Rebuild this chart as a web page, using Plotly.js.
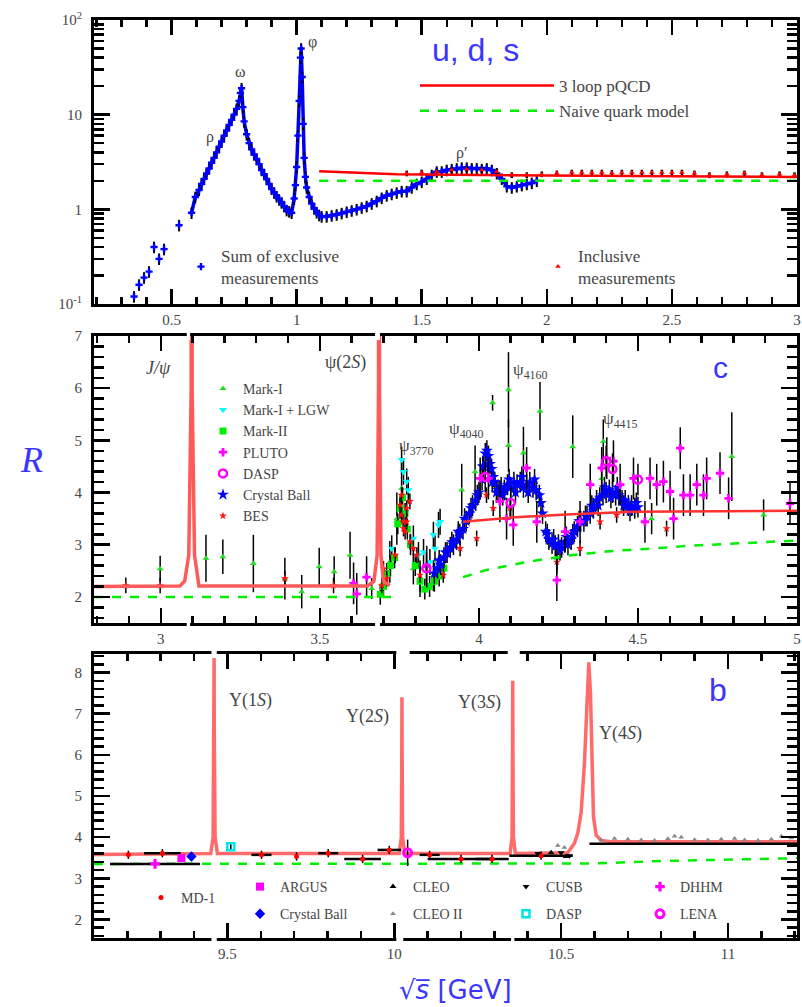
<!DOCTYPE html>
<html><head><meta charset="utf-8">
<script src="https://cdn.plot.ly/plotly-3.0.1.min.js"></script>
<style>html,body{margin:0;padding:0;background:#fff}#chart{width:802px;height:1007px}</style>
</head><body><div id="chart"></div>
<script>
// ---------- Panel 1 : u, d, s ----------
const exclX = [0.35,0.37,0.39,0.41,0.43,0.45,0.47,0.53,0.58,0.595,0.61,0.62,0.63,0.64,0.65,0.66,0.67,0.68,0.69,0.70,0.71,0.72,0.73,0.74,0.75,0.76,0.77,0.775,0.78,0.785,0.79,0.80,0.81,0.82,0.83,0.84,0.85,0.86,0.87,0.88,0.89,0.90,0.91,0.92,0.93,0.94,0.95,0.96,0.97,0.98,0.99,0.995,1.0,1.005,1.01,1.015,1.018,1.022,1.026,1.03,1.035,1.04,1.05,1.06,1.07,1.08,1.09,1.10,1.12,1.14,1.16,1.18,1.20,1.22,1.24,1.26,1.28,1.30,1.32,1.34,1.36,1.38,1.40,1.42,1.44,1.46,1.48,1.50,1.52,1.54,1.56,1.58,1.60,1.62,1.64,1.66,1.68,1.70,1.72,1.74,1.76,1.78,1.80,1.82,1.84,1.86,1.88,1.90,1.92,1.94,1.96];
const exclY = [0.12,0.16,0.19,0.22,0.40,0.30,0.38,0.68,0.92,1.35,1.6,1.85,2.1,2.4,2.7,3.1,3.5,4.0,4.6,5.2,6.0,6.8,7.8,8.8,10,11.5,14,17,19,12,8.5,6.2,5.0,4.3,3.8,3.4,3.0,2.6,2.35,2.1,1.85,1.65,1.5,1.37,1.27,1.18,1.08,0.98,0.95,0.92,1.3,1.8,2.8,6,14,40,50,25,8,3.5,2.2,1.7,1.35,1.15,1.02,0.93,0.87,0.84,0.84,0.86,0.88,0.91,0.94,0.97,1.0,1.04,1.08,1.15,1.22,1.32,1.4,1.45,1.5,1.55,1.55,1.7,1.85,1.95,2.1,2.3,2.5,2.5,2.6,2.65,2.7,2.75,2.75,2.7,2.7,2.65,2.7,2.6,2.4,2.1,1.75,1.7,1.75,1.8,1.85,1.9,2.0];
const inclX = [1.44,1.50,1.56,1.62,1.68,1.74,1.80,1.86,1.92,1.98,2.04,2.10,2.14,2.18,2.22,2.26,2.30,2.34,2.38,2.42,2.46,2.50,2.54,2.59,2.65,2.72,2.79,2.86,2.93,2.99];
const inclY = [2.4,2.45,2.5,2.6,2.65,2.6,2.5,2.3,2.3,2.35,2.4,2.45,2.45,2.45,2.45,2.42,2.45,2.45,2.45,2.45,2.45,2.45,2.45,2.4,2.3,2.35,2.4,2.3,2.35,2.3];
const pqcdUdsX = [1.09, 1.4, 2.0, 3.0];
const pqcdUdsY = [2.52, 2.35, 2.28, 2.2];
const naiveUdsX = [1.09, 3.0];
const naiveUdsY = [2.0, 2.0];

// ---------- Panel 2 : charm ----------
const pqcdC1X = [2.79,3.06,3.075,3.088,3.0955,3.097,3.0985,3.106,3.12,3.65,3.67,3.68,3.6845,3.686,3.6875,3.692,3.70,3.72];
const pqcdC1Y = [2.2,2.21,2.3,2.8,6,40,6,2.8,2.21,2.21,2.3,2.8,6,40,6,2.8,2.3,2.22];
const pqcdC2X = [3.95,4.1,4.276,4.486,5.0];
const pqcdC2Y = [3.44,3.52,3.58,3.63,3.65];
const naiveC1X = [2.79,3.73];
const naiveC1Y = [2.0,2.0];
const naiveC2X = [3.95,4.02,4.15,4.22,4.29,4.34,4.40,4.47,4.54,4.60,4.66,4.73,4.79,4.85,4.91,5.0];
const naiveC2Y = [2.38,2.51,2.67,2.74,2.8,2.83,2.87,2.9,2.92,2.95,2.98,3.0,3.03,3.04,3.06,3.08];

const markIX = [2.998,3.142,3.195,3.291,3.39,3.443,3.498,3.545,3.595,3.663,3.72,3.742,3.757,3.794,3.815,3.857,3.946,3.988,4.043,4.093,4.093,4.14,4.192,4.245,4.295,4.386,4.391,4.543,4.795,4.895];
const markIY = [2.54,2.74,2.77,2.64,2.35,2.10,2.58,2.48,2.80,2.16,2.67,3.50,4.08,2.54,2.35,2.41,4.05,4.40,5.72,5.97,4.90,4.76,5.56,2.74,4.88,4.27,4.98,3.50,4.69,3.57];
const markIE = [0.25,0.45,0.33,0.55,0.4,0.32,0.36,0.3,0.45,0.2,0.4,0.5,0.6,0.3,0.35,0.3,0.5,0.5,0.15,0.72,0.5,0.5,0.56,0.3,0.6,0.4,0.42,0.3,0.85,0.3];
const markILgwX = [3.726,3.757,3.763,3.773,3.778,3.794,3.81,3.826,3.846,3.857,3.862,3.873,3.878];
const markILgwY = [2.93,4.63,4.40,4.21,4.05,3.12,2.80,2.86,2.67,3.19,2.93,3.38,3.44];
const markIIX = [3.69,3.70,3.71,3.722,3.735,3.745,3.752,3.76,3.768,3.775,3.785,3.80,3.815,3.83,3.845,3.86,3.875,3.89];
const markIIY = [2.05,2.2,2.45,2.6,2.75,3.4,3.7,3.9,3.6,3.3,3.0,2.6,2.3,2.15,2.2,2.3,2.4,2.55];
const plutoX = [3.606,3.616,3.647,3.836,4.004,4.03,4.066,4.087,4.108,4.15,4.182,4.245,4.271,4.318,4.35,4.386,4.402,4.423,4.444,4.486,4.522,4.538,4.559,4.58,4.601,4.612,4.633,4.643,4.664,4.685,4.706,4.716,4.758,4.785,4.978];
const plutoY = [2.26,2.06,2.38,2.58,4.27,4.27,3.83,3.50,3.38,4.47,3.44,2.32,3.25,3.44,4.15,4.47,4.66,4.60,4.15,4.27,3.44,4.27,4.15,4.21,4.02,3.50,4.85,3.95,3.95,4.15,3.95,4.27,4.37,3.89,3.79];
const daspCX = [3.835,4.02,4.10,4.40,4.42,4.50];
const daspCY = [2.55,4.3,3.8,4.6,4.45,4.25];
const cbX = [3.86,3.87,3.88,3.89,3.90,3.91,3.92,3.93,3.94,3.95,3.96,3.97,3.98,3.99,4.00,4.01,4.015,4.02,4.025,4.03,4.035,4.04,4.045,4.05,4.06,4.07,4.08,4.09,4.10,4.11,4.12,4.13,4.14,4.15,4.16,4.17,4.18,4.19,4.20,4.21,4.22,4.23,4.24,4.25,4.26,4.27,4.28,4.29,4.30,4.31,4.32,4.33,4.34,4.35,4.36,4.37,4.38,4.39,4.40,4.41,4.42,4.43,4.44,4.45,4.46,4.47,4.48,4.49,4.50];
const cbY = [2.45,2.55,2.62,2.75,2.85,2.95,3.0,3.1,3.2,3.3,3.45,3.6,3.75,3.85,4.0,4.25,4.5,4.75,4.8,4.7,4.55,4.45,4.3,4.2,4.05,4.1,4.05,4.15,4.1,4.2,4.15,4.2,4.1,4.15,4.2,4.1,4.05,3.95,3.6,3.25,3.1,3.02,2.98,3.0,2.95,3.05,3.0,3.1,3.25,3.35,3.45,3.45,3.55,3.6,3.7,3.85,3.9,3.95,4.0,4.05,4.0,3.95,3.95,3.85,3.85,3.75,3.75,3.7,3.72];
const cbX2 = [3.875,3.895,3.915,3.935,3.955,3.975,3.995,4.012,4.028,4.042,4.055,4.075,4.095,4.115,4.135,4.155,4.175,4.195,4.215,4.235,4.255,4.275,4.295,4.315,4.335,4.355,4.375,4.395,4.415,4.435,4.455,4.475,4.495];
const cbY2 = [2.7,2.85,3.05,3.25,3.5,3.7,3.95,4.5,4.55,4.2,4.0,3.95,4.25,4.0,4.3,4.0,4.25,3.8,3.2,3.1,2.9,3.15,3.2,3.45,3.55,3.75,3.75,4.1,3.9,4.1,3.75,3.65,3.8];
const besX = [2.89,2.998,3.39,3.543,3.695,3.70,3.71,3.737,3.752,3.757,3.757,3.762,3.763,3.768,3.773,3.773,3.783,3.784,3.794,3.805,3.815,3.888,3.941,3.993,4.024,4.045,4.098,4.245,4.318,4.381,4.433,4.59];
const besY = [2.22,2.22,2.35,2.22,2.22,2.54,2.35,2.8,3.76,3.57,3.95,3.44,3.31,3.25,3.44,3.7,3.83,3.06,2.93,2.8,2.42,2.42,2.93,3.12,3.95,3.7,3.7,2.67,2.93,3.44,3.57,3.31];

// ---------- Panel 3 : bottom ----------
const pqcdBX = [9.1,9.45,9.457,9.4595,9.46,9.4605,9.463,9.47,10.015,10.021,10.0225,10.023,10.0235,10.025,10.031,10.347,10.353,10.3545,10.355,10.3555,10.357,10.363,10.52,10.54,10.55,10.56,10.57,10.578,10.583,10.588,10.592,10.597,10.605,10.62,10.65,11.21];
const pqcdBY = [3.58,3.6,4.0,6.5,8.37,6.5,4.0,3.6,3.6,4.0,6.0,7.4,6.0,4.0,3.6,3.6,4.0,6.3,7.8,6.3,4.0,3.6,3.62,3.85,4.1,4.6,5.8,7.5,8.25,7.5,5.8,4.5,4.05,3.92,3.89,3.89];
const naiveBX = [9.1,10.56,10.6,10.8,11.0,11.21];
const naiveBY = [3.35,3.35,3.36,3.42,3.46,3.49];
const md1X = [9.203,9.305,9.602,9.707,9.802,9.905,9.985,10.106,10.20,10.293,10.44];
const md1Y = [3.57,3.61,3.57,3.53,3.61,3.47,3.69,3.57,3.47,3.47,3.55];
const md1Ex = [0.0,0.055,0.03,0.0,0.03,0.055,0.035,0.03,0.1,0.05,0.095];
const argusX = [9.362], argusY = [3.49];
const cbBX = [9.392], cbBY = [3.53];
const cleoX = [10.47,10.515], cleoY = [3.62,3.53];
const cleoIIX = [10.49,10.51,10.62,10.66,10.70,10.74,10.78,10.82,10.84,10.86,10.9,10.94,10.98,11.02,11.05,11.09,11.13,11.16,11.19];
const cleoIIY = [3.8,3.75,3.93,3.97,3.95,3.93,3.92,3.96,4.02,4.0,3.94,3.93,3.95,3.97,3.93,3.92,3.95,4.02,3.98];
const cleoScanX = [10.585,10.65,10.75,10.85,10.95,11.05,11.15,11.21];
const cleoScanY = [3.84,3.84,3.84,3.84,3.84,3.84,3.84,3.84];
const cusbX = [10.43,10.50,10.525], cusbY = [3.6,3.62,3.55];
const daspBX = [9.51], daspBY = [3.77];
const dhhmX = [9.283], dhhmY = [3.35], dhhmEx = [0.135];
const lenaX = [10.04], lenaY = [3.62], lenaEy = [0.32];

// ---------- geometry helpers ----------
const PX = px => (px - 94) / 703;
const PY = py => 1 - (py - 20) / 918;
const SERIF = 'Liberation Serif, DejaVu Serif, serif';
const SANS = 'Liberation Sans, DejaVu Sans, sans-serif';
const TXT = '#454545';
const BLUE = '#3b36ff';

const ebar = (v, type, th) => ({type: type || 'constant', value: v, color: '#000', thickness: th || 1.5, width: 0});
const ebarA = arr => ({type: 'data', array: arr, color: '#000', thickness: 1.5, width: 0});

const traces = [];
// top panel
const exclLineX = exclX.filter(x => x >= 0.58);
const exclLineY = exclY.filter((y, i) => exclX[i] >= 0.58);
traces.push({x: exclLineX, y: exclLineY, xaxis: 'x', yaxis: 'y', type: 'scatter', mode: 'lines', showlegend: false,
  line: {color: '#0000ee', width: 3.5}});
traces.push({x: exclX, y: exclY, xaxis: 'x', yaxis: 'y', type: 'scatter', mode: 'markers', name: 'Sum of exclusive<br>measurements', legend: 'legend',
  marker: {symbol: 'cross', size: 6, color: '#0000ff'}, error_y: ebar(14, 'percent', 2)});
traces.push({x: inclX, y: inclY, xaxis: 'x', yaxis: 'y', type: 'scatter', mode: 'markers', name: 'Inclusive<br>measurements', legend: 'legend2',
  marker: {symbol: 'triangle-up', size: 5, color: '#ff0000'}, error_y: ebar(7, 'percent', 2.5)});
traces.push({x: pqcdUdsX, y: pqcdUdsY, xaxis: 'x', yaxis: 'y', type: 'scatter', mode: 'lines', name: '3 loop pQCD', legend: 'legend3', legendrank: 1,
  line: {color: '#ff0000', width: 2.5}});
traces.push({x: naiveUdsX, y: naiveUdsY, xaxis: 'x', yaxis: 'y', type: 'scatter', mode: 'lines', name: 'Naive quark model', legend: 'legend3', legendrank: 2,
  line: {color: '#00ee00', width: 2.5, dash: 'dash'}});

// middle panel data
const mid = (o) => Object.assign({xaxis: 'x2', yaxis: 'y2', type: 'scatter', mode: 'markers', legend: 'legend4'}, o);
traces.push(mid({x: markIX, y: markIY, name: 'Mark-I', legendrank: 1, marker: {symbol: 'triangle-up', size: 6, color: '#22dd22'}, error_y: ebarA(markIE)}));
traces.push(mid({x: markILgwX, y: markILgwY, name: 'Mark-I + LGW', legendrank: 2, marker: {symbol: 'triangle-down', size: 7, color: '#00ffff'}, error_y: ebar(0.25)}));
traces.push(mid({x: markIIX, y: markIIY, name: 'Mark-II', legendrank: 3, marker: {symbol: 'square', size: 7, color: '#00ee00'}, error_y: ebar(0.2)}));
traces.push(mid({x: besX, y: besY, name: 'BES', legendrank: 7, marker: {symbol: 'star', size: 6, color: '#ff1010'}, error_y: ebar(0.15)}));
traces.push(mid({x: cbX.concat(cbX2), y: cbY.concat(cbY2), name: 'Crystal Ball', legendrank: 6, marker: {symbol: 'star', size: 9, color: '#0000ff'}, error_y: ebar(0.2)}));
traces.push(mid({x: plutoX, y: plutoY, name: 'PLUTO', legendrank: 4, marker: {symbol: 'cross', size: 7, color: '#ff00ff'}, error_y: ebar(0.4)}));
traces.push(mid({x: daspCX, y: daspCY, name: 'DASP', legendrank: 5, marker: {symbol: 'circle-open', size: 8, color: '#ff00ff', line: {width: 2.5}}, error_y: ebar(0.3)}));
// middle theory
traces.push({x: naiveC1X, y: naiveC1Y, xaxis: 'x2', yaxis: 'y2', mode: 'lines', showlegend: false, line: {color: '#00ee00', width: 2.5, dash: 'dash'}});
traces.push({x: naiveC2X, y: naiveC2Y, xaxis: 'x2', yaxis: 'y2', mode: 'lines', showlegend: false, line: {color: '#00ee00', width: 2.5, dash: 'dash'}});
traces.push({x: pqcdC1X, y: pqcdC1Y, xaxis: 'x2', yaxis: 'y2', mode: 'lines', showlegend: false, line: {color: '#ff5a5a', width: 3.5}});
traces.push({x: pqcdC2X, y: pqcdC2Y, xaxis: 'x2', yaxis: 'y2', mode: 'lines', showlegend: false, line: {color: '#ff3030', width: 2.5}});

// bottom panel theory
traces.push({x: naiveBX, y: naiveBY, xaxis: 'x3', yaxis: 'y3', mode: 'lines', showlegend: false, line: {color: '#00ee00', width: 2.5, dash: 'dash'}});
traces.push({x: pqcdBX, y: pqcdBY, xaxis: 'x3', yaxis: 'y3', mode: 'lines', showlegend: false, line: {color: '#ff6a6a', width: 3.5}});
traces.push({x: cleoScanX, y: cleoScanY, xaxis: 'x3', yaxis: 'y3', mode: 'lines', showlegend: false, line: {color: '#000', width: 2.5}});
// bottom data
const bot = (o) => Object.assign({xaxis: 'x3', yaxis: 'y3', type: 'scatter', mode: 'markers'}, o);
const exA = arr => ({type: 'data', array: arr, color: '#000', thickness: 2.5, width: 0});
traces.push(bot({x: md1X, y: md1Y, name: 'MD-1', legend: 'legend5', marker: {symbol: 'circle', size: 5, color: '#ff0000'}, error_x: exA(md1Ex), error_y: ebar(0.1)}));
traces.push(bot({x: argusX, y: argusY, name: 'ARGUS', legend: 'legend6', legendgroup: 'g1', marker: {symbol: 'square', size: 8, color: '#ff00ff'}}));
traces.push(bot({x: cbBX, y: cbBY, name: 'Crystal Ball', legend: 'legend6', legendgroup: 'g2', marker: {symbol: 'diamond', size: 8, color: '#0000ff'}, error_y: ebar(0.1)}));
traces.push(bot({x: cleoX, y: cleoY, name: 'CLEO', legend: 'legend7', legendgroup: 'g3', marker: {symbol: 'triangle-up', size: 6, color: '#000'}}));
traces.push(bot({x: cleoIIX, y: cleoIIY, name: 'CLEO II', legend: 'legend7', legendgroup: 'g4', marker: {symbol: 'triangle-up', size: 5, color: '#888'}}));
traces.push(bot({x: cusbX, y: cusbY, name: 'CUSB', legend: 'legend8', legendgroup: 'g5', marker: {symbol: 'triangle-down', size: 6, color: '#000'}}));
traces.push(bot({x: daspBX, y: daspBY, name: 'DASP', legend: 'legend8', legendgroup: 'g6', marker: {symbol: 'square-open', size: 7, color: '#00e5e5', line: {width: 2.5}}, error_y: ebar(0.1)}));
traces.push(bot({x: dhhmX, y: dhhmY, name: 'DHHM', legend: 'legend9', legendgroup: 'g7', marker: {symbol: 'cross', size: 8, color: '#ff00ff'}, error_x: exA(dhhmEx)}));
traces.push(bot({x: lenaX, y: lenaY, name: 'LENA', legend: 'legend9', legendgroup: 'g8', marker: {symbol: 'circle-open', size: 8, color: '#ff00ff', line: {width: 3}}, error_y: ebarA(lenaEy)}));

// ---------- axes ----------
const tickFont = {family: SERIF, size: 15, color: TXT};
function xax(o) {
  return Object.assign({showline: true, linecolor: '#000', linewidth: 3, mirror: 'allticks', ticks: 'inside', ticklen: 15, tickwidth: 2.5,
    tickcolor: '#000', showgrid: false, zeroline: false, tickfont: tickFont, tickmode: 'array',
    minor: {ticks: 'inside', ticklen: 7, tickwidth: 2.5, tickcolor: '#000', dtick: 0.1, tick0: 0, showgrid: false}}, o);
}
function yax(o, minor) {
  return Object.assign({showline: true, linecolor: '#000', linewidth: 3, mirror: 'allticks', ticks: 'inside', ticklen: 16, tickwidth: 2.5,
    tickcolor: '#000', showgrid: false, zeroline: false, tickfont: tickFont, tickmode: 'array', ticklabelstandoff: 6,
    minor: Object.assign({ticks: 'inside', ticklen: 10, tickwidth: 2.5, tickcolor: '#000', showgrid: false}, minor)}, o);
}
const logMinor = [];
[0.1, 1, 10].forEach(d => { for (let k = 2; k <= 9; k++) logMinor.push(k * d); });

const layout = {
  width: 802, height: 1007, paper_bgcolor: '#fff', plot_bgcolor: 'rgba(0,0,0,0)',
  margin: {l: 94, r: 5, t: 20, b: 69},
  xaxis: xax({domain: [0, 1], anchor: 'y', range: [0.19, 3.0], tickvals: [0.5, 1, 1.5, 2, 2.5, 3], ticktext: ['0.5', '1', '1.5', '2', '2.5', '3']}),
  yaxis: yax({domain: [PY(304), 1], anchor: 'x', type: 'log', range: [-1, 2], tickvals: [0.1, 1, 10, 100],
    ticktext: ['10<sup>-1</sup>', '1', '10', '10<sup>2</sup>']}, {tickmode: 'array', tickvals: logMinor}),
  xaxis2: xax({domain: [0, 1], anchor: 'y2', range: [2.79, 5.0], tickvals: [3, 3.5, 4, 4.5, 5], ticktext: ['3', '3.5', '4', '4.5', '5']}),
  yaxis2: yax({domain: [PY(623), PY(336)], anchor: 'x2', range: [1.5, 7.0], tickvals: [2, 3, 4, 5, 6, 7], ticktext: ['2', '3', '4', '5', '6', '7']}, {dtick: 0.2, tick0: 0}),
  xaxis3: xax({domain: [0, 1], anchor: 'y3', range: [9.1, 11.207], tickvals: [9.5, 10, 10.5, 11], ticktext: ['9.5', '10', '10.5', '11']}),
  yaxis3: yax({domain: [0, PY(654)], anchor: 'x3', range: [1.55, 8.45], tickvals: [2, 3, 4, 5, 6, 7, 8], ticktext: ['2', '3', '4', '5', '6', '7', '8']}, {dtick: 0.2, tick0: 0}),
  showlegend: true,
  legend: {x: PX(181), y: PY(267), xanchor: 'left', yanchor: 'middle', bgcolor: 'rgba(0,0,0,0)', font: {family: SERIF, size: 17, color: TXT}},
  legend2: {x: PX(538), y: PY(267), xanchor: 'left', yanchor: 'middle', bgcolor: 'rgba(0,0,0,0)', font: {family: SERIF, size: 17, color: TXT}},
  legend3: {x: PX(415), y: PY(68), xanchor: 'left', yanchor: 'top', bgcolor: 'rgba(0,0,0,0)', itemwidth: 134, font: {family: SERIF, size: 17, color: TXT}, traceorder: 'normal'},
  legend4: {x: PX(203), y: PY(373), xanchor: 'left', yanchor: 'top', bgcolor: 'rgba(0,0,0,0)', font: {family: SERIF, size: 14, color: TXT}, traceorder: 'normal'},
  legend5: {x: PX(141), y: PY(898), xanchor: 'left', yanchor: 'middle', bgcolor: 'rgba(0,0,0,0)', font: {family: SERIF, size: 14, color: TXT}},
  legend6: {x: PX(240), y: PY(871), xanchor: 'left', yanchor: 'top', bgcolor: 'rgba(0,0,0,0)', tracegroupgap: 6, font: {family: SERIF, size: 14, color: TXT}},
  legend7: {x: PX(373), y: PY(871), xanchor: 'left', yanchor: 'top', bgcolor: 'rgba(0,0,0,0)', tracegroupgap: 6, font: {family: SERIF, size: 14, color: TXT}},
  legend8: {x: PX(506), y: PY(871), xanchor: 'left', yanchor: 'top', bgcolor: 'rgba(0,0,0,0)', tracegroupgap: 6, font: {family: SERIF, size: 14, color: TXT}},
  legend9: {x: PX(640), y: PY(871), xanchor: 'left', yanchor: 'top', bgcolor: 'rgba(0,0,0,0)', tracegroupgap: 6, font: {family: SERIF, size: 14, color: TXT}},
  annotations: [],
  shapes: []
};

function ann(px, py, text, size, extra) {
  layout.annotations.push(Object.assign({xref: 'paper', yref: 'paper', x: PX(px), y: PY(py), text: text, showarrow: false,
    xanchor: 'center', yanchor: 'middle', font: {family: SERIF, size: size, color: TXT}}, extra || {}));
}
ann(475, 50, 'u, d, s', 32, {font: {family: SANS, size: 32, color: BLUE}});
ann(210, 137, 'ρ', 16);
ann(240, 72, 'ω', 16);
ann(312, 42, 'φ', 16);
ann(462, 153, 'ρ′', 16);
ann(158, 368, '<i>J/ψ</i>', 18);
ann(345, 362, 'ψ(2<i>S</i>)', 18);
ann(416, 447, 'ψ<sub>3770</sub>', 17);
ann(466, 430, 'ψ<sub>4040</sub>', 17);
ann(530, 371, 'ψ<sub>4160</sub>', 17);
ann(620, 420, 'ψ<sub>4415</sub>', 17);
ann(720, 367, 'c', 30, {font: {family: SANS, size: 30, color: BLUE}});
ann(250, 700, 'Υ(1<i>S</i>)', 18);
ann(367, 716, 'Υ(2<i>S</i>)', 18);
ann(480, 702, 'Υ(3<i>S</i>)', 18);
ann(620, 733, 'Υ(4<i>S</i>)', 18);
ann(718, 690, 'b', 32, {font: {family: SANS, size: 32, color: BLUE}});
ann(32, 460, '<i>R</i>', 36, {font: {family: SERIF, size: 36, color: BLUE}});
ann(455, 990, '√<i>s</i>\u0305 [GeV]', 26, {font: {family: 'DejaVu Sans, sans-serif', size: 26, color: BLUE}});

// axis breaks (white gaps in the frame lines)
function gap(xref, x0, x1, py) {
  layout.shapes.push({type: 'rect', xref: xref, yref: 'paper', x0: x0, x1: x1, y0: PY(py + 4), y1: PY(py - 4),
    fillcolor: '#fff', line: {width: 0}, layer: 'above'});
}
gap('x2', 3.0815, 3.092, 336); gap('x2', 3.6736, 3.689, 336);
gap('x2', 3.0815, 3.092, 623); gap('x2', 3.6736, 3.689, 623);
gap('x3', 9.452, 9.468, 654); gap('x3', 10.006, 10.046, 654); gap('x3', 10.34, 10.376, 654);
gap('x3', 9.452, 9.468, 938); gap('x3', 10.006, 10.027, 938); gap('x3', 10.35, 10.36, 938);

Plotly.newPlot('chart', traces, layout, {displayModeBar: false, staticPlot: true});
</script></body></html>
